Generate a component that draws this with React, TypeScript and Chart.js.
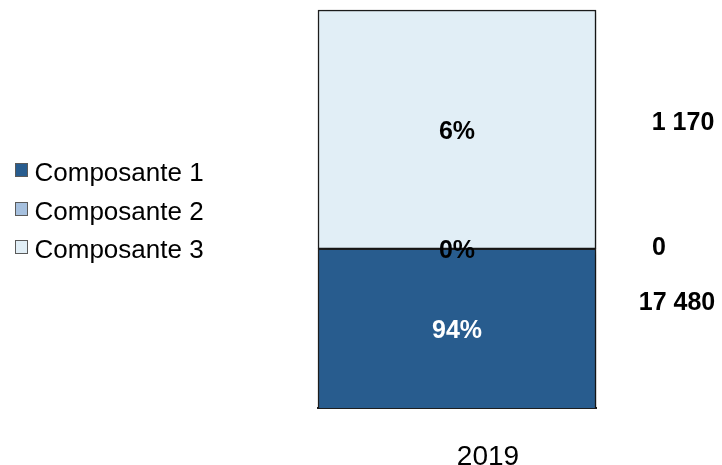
import { useEffect, useRef } from "react";
import { Chart, registerables } from "chart.js";

Chart.register(...registerables);

// ---- data ----
const categories = ["2019"];
const seriesNames = ["Composante 1", "Composante 2", "Composante 3"];
const shares = [94, 0, 6]; // percent of total
const amounts = ["17 480", "0", "1 170"];
const yMin = 90;
const yMax = 100;

// ---- styles ----
const seriesColors = ["#285C8E", "#A6C0DE", "#E1EEF6"];
const percentTextColors = ["#FFFFFF", "#000000", "#000000"];
const amountOffsets = [
  { dx: 81, dy: -25 },
  { dx: 63, dy: -1 },
  { dx: 87, dy: -6 },
];
const FONT = '"Liberation Sans", Arial, Helvetica, sans-serif';

const labelsPlugin = {
  id: "labelsPlugin",
  beforeDatasetsDraw(chart: any) {
    const ctx = chart.ctx;
    ctx.save();
    ctx.shadowColor = "rgba(0,0,0,0.35)";
    ctx.shadowBlur = 6;
    ctx.shadowOffsetX = 3;
    ctx.shadowOffsetY = 2;
  },
  afterDatasetsDraw(chart: any) {
    const ctx = chart.ctx;
    ctx.restore();
    const yScale = chart.scales.y;
    const area = chart.chartArea;
    ctx.save();
    ctx.textBaseline = "middle";
    let start = 0;
    chart.data.datasets.forEach((ds: any, i: number) => {
      const meta = chart.getDatasetMeta(i);
      const el = meta.data[0];
      const v = ds.data[0] as number;
      const a = Math.min(Math.max(start, yMin), yMax);
      const b = Math.min(Math.max(start + v, yMin), yMax);
      start += v;
      const cy = (yScale.getPixelForValue(a) + yScale.getPixelForValue(b)) / 2;
      // percentage inside bar
      ctx.font = `bold 25px ${FONT}`;
      ctx.textAlign = "center";
      ctx.fillStyle = percentTextColors[i];
      ctx.fillText(`${v}%`, el.x, cy + 2.5);
      // amount on the right
      ctx.fillStyle = "#000000";
      ctx.fillText(amounts[i], area.right + amountOffsets[i].dx, cy + amountOffsets[i].dy);
    });
    ctx.restore();
  },
  afterDraw(chart: any) {
    const ctx = chart.ctx;
    ctx.save();
    ctx.textBaseline = "middle";
    ctx.textAlign = "left";
    ctx.font = `26px ${FONT}`;
    chart.data.datasets.forEach((ds: any, i: number) => {
      const y = 174 + i * 38.5;
      ctx.fillStyle = ds.backgroundColor;
      ctx.fillRect(15, Math.round(y - 11), 13, 14);
      ctx.strokeStyle = "#5A5A5A";
      ctx.lineWidth = 1;
      ctx.strokeRect(15.5, Math.round(y - 11) + 0.5, 12, 13);
      ctx.fillStyle = "#000000";
      ctx.fillText(ds.label, 34.5, y);
    });
    ctx.restore();
  },
};

export default function App() {
  const ref = useRef<HTMLCanvasElement>(null);
  useEffect(() => {
    if (!ref.current) return;
    const chart = new Chart(ref.current, {
      type: "bar",
      data: {
        labels: categories,
        datasets: seriesNames.map((name, i) => ({
          label: name,
          data: [shares[i]],
          backgroundColor: seriesColors[i],
          borderColor: "#1E1E1E",
          borderWidth: 1.5,
          borderSkipped: false,
          barPercentage: 1,
          categoryPercentage: 1,
          clip: { left: 8, right: 8, top: 8, bottom: 0 } as any,
        })),
      },
      options: {
        animation: false,
        responsive: false,
        maintainAspectRatio: false,
        layout: { padding: { left: 318, right: 126, top: 10, bottom: 0 } },
        plugins: {
          legend: { display: false },
          tooltip: { enabled: false },
        },
        scales: {
          x: {
            stacked: true,
            grid: { display: false, drawTicks: false },
            border: { display: true, color: "#1E1E1E", width: 2 },
            ticks: {
              color: "#000000",
              font: { family: FONT, size: 28 },
              padding: 32,
              labelOffset: 31,
            },
            afterFit: (scale: any) => {
              scale.height = 57;
            },
          },
          y: {
            stacked: true,
            display: false,
            min: yMin,
            max: yMax,
          },
        },
      },
      plugins: [labelsPlugin],
    });
    return () => chart.destroy();
  }, []);
  return (
    <div style={{ position: "absolute", left: 0, top: 0, width: 722, height: 465, background: "#ffffff" }}>
      <canvas ref={ref} width={722} height={465} />
    </div>
  );
}
